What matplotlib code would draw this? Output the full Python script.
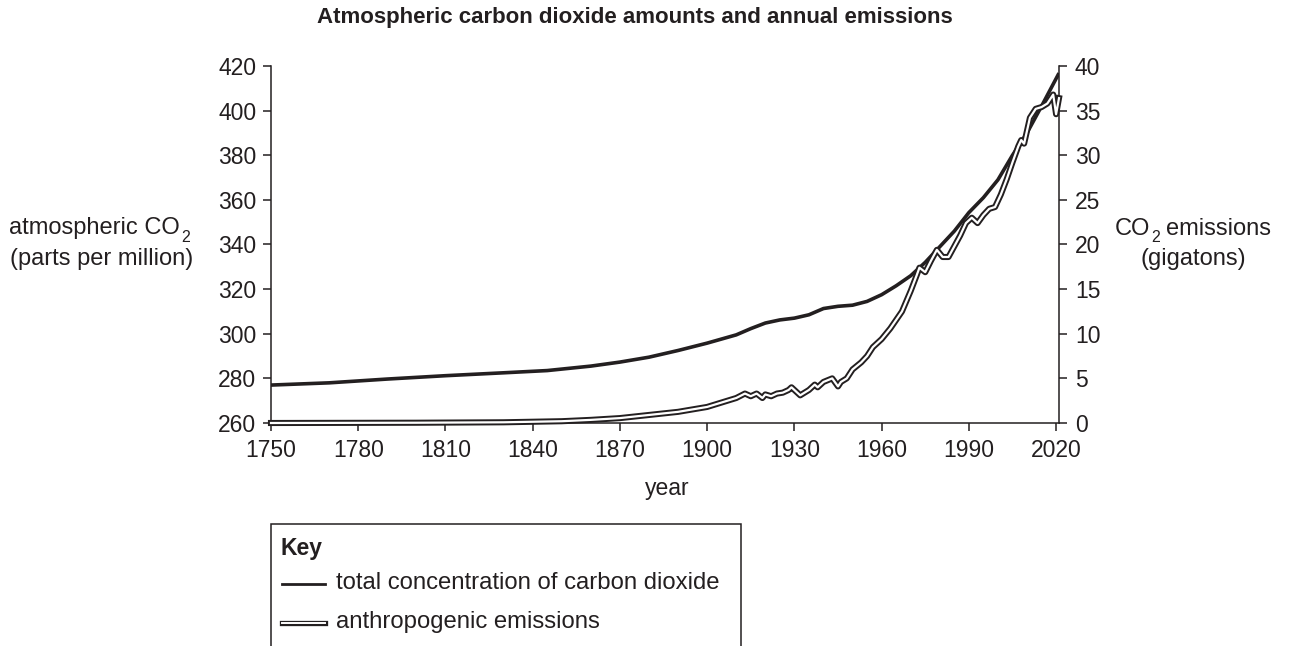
import matplotlib
matplotlib.use("Agg")
import matplotlib.pyplot as plt
import matplotlib.patheffects as pe
from matplotlib.lines import Line2D
from matplotlib.patches import Rectangle

# ---------------- data ----------------
co2_years = [1750, 1770, 1790, 1810, 1830, 1845, 1860, 1870, 1880, 1890, 1900,
             1910, 1915, 1920, 1925, 1930, 1935, 1940, 1945, 1950, 1955, 1960,
             1965, 1970, 1975, 1980, 1985, 1990, 1995, 2000, 2005, 2010, 2015, 2021]
co2_ppm = [277.0, 278.0, 279.7, 281.2, 282.5, 283.5, 285.5, 287.3, 289.5, 292.5, 295.8,
           299.5, 302.3, 304.8, 306.2, 307.0, 308.5, 311.3, 312.3, 312.8, 314.5, 317.5,
           321.5, 326.0, 332.0, 339.0, 346.0, 354.3, 361.0, 369.0, 380.0, 390.0, 402.0, 416.8]

em_years = [1750, 1800, 1830, 1850, 1860, 1870, 1880, 1890, 1900, 1905, 1910, 1913,
            1915, 1917, 1919, 1920, 1922, 1924, 1926, 1928, 1929, 1932, 1935, 1937,
            1938, 1940, 1943, 1945, 1946, 1948, 1950, 1953, 1955, 1957, 1960, 1963,
            1967, 1970, 1972, 1973, 1975, 1977, 1979, 1981, 1983, 1985, 1987, 1989,
            1991, 1993, 1995, 1997, 1999, 2001, 2003, 2005, 2007, 2008, 2009, 2011,
            2013, 2015, 2017, 2019, 2020, 2021]
em_gt = [0.0, 0.03, 0.08, 0.2, 0.35, 0.55, 0.9, 1.25, 1.8, 2.3, 2.8, 3.3,
         3.0, 3.3, 2.8, 3.2, 3.0, 3.3, 3.4, 3.7, 4.0, 3.1, 3.7, 4.3,
         4.0, 4.6, 5.0, 4.1, 4.6, 5.0, 6.0, 6.8, 7.5, 8.5, 9.4, 10.6,
         12.5, 14.8, 16.5, 17.4, 16.9, 18.2, 19.4, 18.6, 18.6, 19.8, 21.0, 22.4,
         23.0, 22.4, 23.3, 24.0, 24.2, 25.6, 27.3, 29.2, 31.0, 31.7, 31.3, 34.2,
         35.2, 35.4, 35.8, 36.8, 34.6, 36.4]

x_ticks = [1750, 1780, 1810, 1840, 1870, 1900, 1930, 1960, 1990, 2020]
left_ticks = [260, 280, 300, 320, 340, 360, 380, 400, 420]
right_ticks = [0, 5, 10, 15, 20, 25, 30, 35, 40]

title = "Atmospheric carbon dioxide amounts and annual emissions"
legend_labels = ["total concentration of carbon dioxide", "anthropogenic emissions"]

# ---------------- style ----------------
INK = "#231f20"
W, H = 1289, 646
plt.rcParams["font.family"] = ["Liberation Sans", "DejaVu Sans"]
plt.rcParams["text.color"] = INK
FS = 16.5
LFS = 17
SUB = 11.5

fig = plt.figure(figsize=(W / 100, H / 100), dpi=100)

def fx(px):
    return px / W

def fy(py):
    return 1 - py / H

ax = fig.add_axes([fx(271), fy(423), fx(1059) - fx(271), fy(66) - fy(423)])
ax2 = ax.twinx()

ax.set_xlim(1750, 2021)
ax.set_ylim(260, 420)
ax2.set_ylim(0, 40)

ax.plot(co2_years, co2_ppm, color=INK, lw=2.6, solid_capstyle="butt", zorder=3)
ax2.plot(em_years, em_gt, color="white", lw=1.6, clip_on=False, zorder=4,
         solid_joinstyle="round",
         path_effects=[pe.Stroke(linewidth=4.4, foreground=INK), pe.Normal()])

ax.set_xticks(x_ticks)
ax.set_yticks(left_ticks)
ax2.set_yticks(right_ticks)

for a in (ax, ax2):
    a.spines["top"].set_visible(False)
    for s in a.spines.values():
        s.set_linewidth(1.1)
        s.set_color(INK)
    a.tick_params(direction="out", length=5.5, width=1.1, color=INK,
                  labelsize=FS, labelcolor=INK)
ax.spines["right"].set_visible(False)
ax2.spines["left"].set_visible(False)
ax2.spines["bottom"].set_visible(False)
ax.tick_params(axis="y", pad=5)
ax.tick_params(axis="x", pad=6)
ax2.tick_params(axis="y", pad=6)

# title and axis labels
fig.text(fx(635), fy(18), title, ha="center", va="center", fontsize=16,
         fontweight="bold")
fig.text(fx(667), fy(488), "year", ha="center", va="center", fontsize=FS)

renderer = fig.canvas.get_renderer()

def right_px(t):
    return t.get_window_extent(renderer).x1

# left label, line 1 with a low subscript
t1 = fig.text(fx(9), fy(234), "atmospheric CO", ha="left", va="baseline", fontsize=LFS)
fig.text(fx(right_px(t1) + 1), fy(242), "2", ha="left", va="baseline", fontsize=SUB)
fig.text(fx(102), fy(259), "(parts per million)", ha="center", va="center", fontsize=LFS)

# right label
t2 = fig.text(fx(1115), fy(235), "CO", ha="left", va="baseline", fontsize=LFS)
t3 = fig.text(fx(right_px(t2) + 1), fy(242), "2", ha="left", va="baseline", fontsize=SUB)
fig.text(fx(right_px(t3) + 6), fy(235), "emissions", ha="left", va="baseline", fontsize=LFS)
fig.text(fx(1193), fy(259), "(gigatons)", ha="center", va="center", fontsize=LFS)

# key box (open at the bottom of the figure)
box = Rectangle((fx(271), fy(700)), fx(741) - fx(271), fy(524) - fy(700),
                transform=fig.transFigure, fill=False, lw=1.1, edgecolor=INK,
                clip_on=False)
fig.patches.append(box)
fig.text(fx(281), fy(549), "Key", ha="left", va="center", fontsize=FS,
         fontweight="bold")
fig.lines.append(Line2D([fx(282), fx(325)], [fy(584), fy(584)], transform=fig.transFigure,
                        color=INK, lw=2.0))
fig.lines.append(Line2D([fx(282), fx(325)], [fy(623), fy(623)], transform=fig.transFigure,
                        color="white", lw=1.4,
                        path_effects=[pe.Stroke(linewidth=3.8, foreground=INK), pe.Normal()]))
fig.text(fx(336), fy(583), legend_labels[0], ha="left", va="center", fontsize=17.2)
fig.text(fx(336), fy(622), legend_labels[1], ha="left", va="center", fontsize=17.2)

fig.savefig("out.png", dpi=100)
